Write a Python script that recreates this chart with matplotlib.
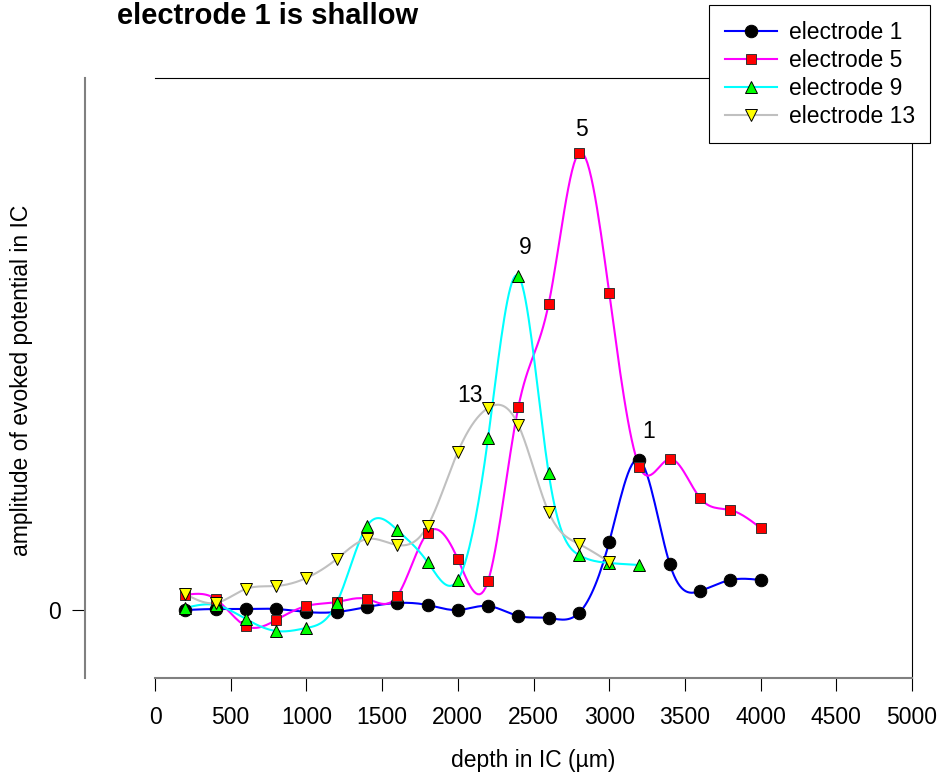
import numpy as np
import matplotlib

matplotlib.use("Agg")
import matplotlib.pyplot as plt


# Глубина погружения (мкм) и амплитуды вызванных потенциалов по электродам.
depth_1 = [200, 400, 600, 800, 1000, 1200, 1400, 1600, 1800, 2000,
           2200, 2400, 2600, 2800, 3000, 3200, 3400, 3600, 3800, 4000]
amp_1 = [0.00, 0.01, 0.01, 0.01, -0.02, -0.02, 0.03, 0.07, 0.05, 0.00,
         0.04, -0.06, -0.08, -0.03, 0.68, 1.50, 0.46, 0.19, 0.30, 0.30]

depth_5 = depth_1
amp_5 = [0.15, 0.11, -0.16, -0.10, 0.04, 0.08, 0.11, 0.14, 0.77, 0.51,
         0.29, 2.03, 3.06, 4.57, 3.17, 1.43, 1.51, 1.12, 1.00, 0.82]

depth_9 = [200, 400, 600, 800, 1000, 1200, 1400, 1600, 1800, 2000,
           2200, 2400, 2600, 2800, 3000, 3200]
amp_9 = [0.02, 0.05, -0.09, -0.21, -0.18, 0.07, 0.84, 0.80, 0.48, 0.30,
         1.72, 3.34, 1.37, 0.55, 0.47, 0.45]

depth_13 = [200, 400, 600, 800, 1000, 1200, 1400, 1600, 1800, 2000,
            2200, 2400, 2600, 2800, 3000]
amp_13 = [0.16, 0.07, 0.21, 0.24, 0.32, 0.51, 0.71, 0.65, 0.84, 1.58,
          2.02, 1.85, 0.98, 0.66, 0.48]

labels = ["electrode 1", "electrode 5", "electrode 9", "electrode 13"]
peak_names = ["1", "5", "9", "13"]
x_ticks = [0, 500, 1000, 1500, 2000, 2500, 3000, 3500, 4000, 4500, 5000]

FONT = "Liberation Sans"


def natural_spline(x, y, n=300):
    """Натуральный кубический сплайн через точки (для гладкой линии)."""
    x = np.asarray(x, float)
    y = np.asarray(y, float)
    k = len(x)
    h = np.diff(x)
    A = np.zeros((k, k))
    b = np.zeros(k)
    A[0, 0] = A[-1, -1] = 1.0
    for i in range(1, k - 1):
        A[i, i - 1] = h[i - 1]
        A[i, i] = 2 * (h[i - 1] + h[i])
        A[i, i + 1] = h[i]
        b[i] = 6 * ((y[i + 1] - y[i]) / h[i] - (y[i] - y[i - 1]) / h[i - 1])
    M = np.linalg.solve(A, b)

    xs = np.linspace(x[0], x[-1], n)
    idx = np.clip(np.searchsorted(x, xs) - 1, 0, k - 2)
    x0, x1 = x[idx], x[idx + 1]
    hh = x1 - x0
    t0 = x1 - xs
    t1 = xs - x0
    ys = (M[idx] * t0**3 + M[idx + 1] * t1**3) / (6 * hh) \
        + (y[idx] / hh - M[idx] * hh / 6) * t0 \
        + (y[idx + 1] / hh - M[idx + 1] * hh / 6) * t1
    return xs, ys


plt.rcParams["font.family"] = [FONT, "DejaVu Sans"]

fig = plt.figure(figsize=(9.44, 7.76), dpi=100)
ax = fig.add_axes([155 / 944, 1 - 678 / 776, (912 - 155) / 944, (678 - 78) / 776])

series = [
    (depth_1, amp_1, "#0000ff", "o", "black", "black", 9.0),
    (depth_5, amp_5, "#ff00ff", "s", "#ff0000", "#333333", 7.2),
    (depth_9, amp_9, "#00ffff", "^", "#00ff00", "black", 8.0),
    (depth_13, amp_13, "#c0c0c0", "v", "#ffff00", "black", 8.0),
]

handles = []
for (xd, yd, lc, mk, fc, ec, ms), lab in zip(series, labels):
    xs, ys = natural_spline(xd, yd)
    ax.plot(xs, ys, color=lc, lw=1.5, zorder=2)
    ax.plot(xd, yd, ls="none", marker=mk, ms=ms, mfc=fc, mec=ec, mew=0.7, zorder=3)
    h, = ax.plot([], [], color=lc, lw=1.5, marker=mk, ms=ms, mfc=fc, mec=ec, mew=0.7)
    handles.append(h)

# Подписи номеров электродов над максимумами.
peak_offsets = [(9, 29), (3, 23), (7, 29), (-18, 13)]
for (xd, yd, *_), name, off in zip(series, peak_names, peak_offsets):
    i = int(np.argmax(yd))
    ax.annotate(name, (xd[i], yd[i]), textcoords="offset pixels", xytext=off,
                ha="center", va="center", fontsize=16.5)

ax.set_xlim(0, 5000)
ax.set_ylim(-0.68, 5.32)
ax.set_xticks(x_ticks)
ax.set_xticklabels([str(t) for t in x_ticks])
ax.set_yticks([0])
ax.set_yticklabels(["0"])

# Левая ось вынесена на 70 px влево (в пунктах: 70 * 72 / 100).
ax.spines["left"].set_position(("outward", 70 * 72 / 100))
ax.spines["left"].set_color("#808080")
ax.spines["left"].set_linewidth(1.5)
ax.spines["bottom"].set_color("#808080")
ax.spines["bottom"].set_linewidth(1.5)
ax.spines["top"].set_linewidth(0.8)
ax.spines["right"].set_linewidth(0.8)

ax.tick_params(axis="both", direction="out", length=9.5, width=0.8,
               color="black", labelsize=16.5)
ax.tick_params(axis="x", pad=11)
ax.tick_params(axis="y", pad=8)

ax.set_xlabel("depth in IC (µm)", fontsize=16.5, labelpad=14)
fig.text(22 / 944, 1 - 380 / 776, "amplitude of evoked potential in IC",
         fontsize=16.5, rotation=90, ha="center", va="center")

fig.text(117 / 944, 1 - 16 / 776, "electrode 1 is shallow", fontsize=21,
         fontweight="bold", ha="left", va="center")

leg = fig.legend(handles, labels, loc="upper left",
                 bbox_to_anchor=(709 / 944, 1 - 5 / 776), borderaxespad=0,
                 fontsize=16.5, handlelength=2.3, handletextpad=0.5,
                 labelspacing=0.22, borderpad=0.68, fancybox=False,
                 framealpha=1, edgecolor="black")
leg.get_frame().set_linewidth(0.8)

fig.savefig("out.png", dpi=100)
